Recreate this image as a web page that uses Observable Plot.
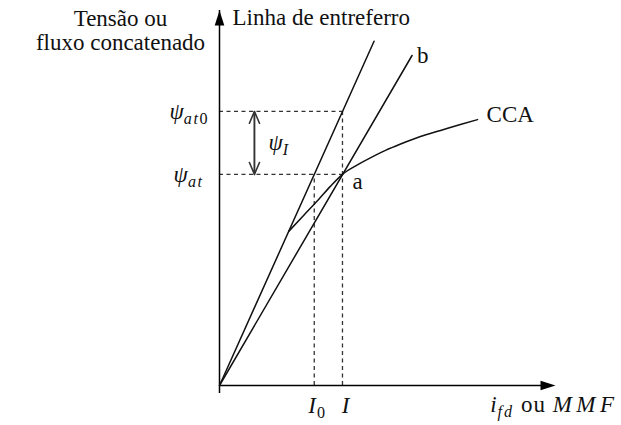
<!DOCTYPE html>
<html>
<head>
<meta charset="utf-8">
<script src="https://cdn.jsdelivr.net/npm/d3@7"></script>
<script src="https://cdn.jsdelivr.net/npm/@observablehq/plot@0.6"></script>
<style>
  html, body { margin: 0; padding: 0; background: #fff; }
  #chart svg text, #chart svg tspan { white-space: pre; font-family: "Liberation Serif", "Times New Roman", serif !important; }
</style>
</head>
<body>
<div id="chart"></div>
<script>
// ---- values (arbitrary units, axes run 0..10) ----
const I0 = 2.82;        // field current on the air-gap line at ψat
const I = 3.66;         // field current at operating point a
const psiAt = 5.63;     // ψat
const psiAt0 = 7.31;    // ψat0

const airGapX = [0, 4.6];
const airGapY = [0, 9.18];

const lineBX = [0, 5.73];
const lineBY = [0, 8.8];

const ccaX = [2.06, 2.53, 2.95, 3.30, 3.66, 4.08, 4.49, 4.94, 5.39, 5.98, 6.58, 7.17, 7.68];
const ccaY = [4.11, 4.56, 4.96, 5.31, 5.63, 5.87, 6.07, 6.27, 6.44, 6.64, 6.80, 6.96, 7.09];

const axisMax = 10;

// ---- labels ----
const yTitle = "Tensão ou\nfluxo concatenado";
const airGapLabel = "Linha de entreferro";
const lineBLabel = "b";
const ccaLabel = "CCA";
const pointALabel = "a";
const psiAtLabel = "ψ_at";
const psiAt0Label = "ψ_at0";
const psiILabel = "ψ_I";
const I0Label = "I_0";
const ILabel = "I";
const xTitle = "i_fd ou MMF";

// rich formatting: i = italic, s = subscript roman, si = subscript italic; third item = letter spacing
const rich = {
  [psiAt0Label]: [["ψ", "i", 0], ["at", "si", 1.5], ["0", "s", 0]],
  [psiAtLabel]: [["ψ", "i", 0], ["at", "si", 1.5]],
  [psiILabel]: [["ψ", "i", 0], ["I", "si", 0]],
  [I0Label]: [["I", "i", 1], ["0", "s", 0]],
  [ILabel]: [["I", "i", 0]],
  [xTitle]: [["i", "i", 1], ["fd", "si", 2], [" ou ", "", 1], ["MMF", "i", 4.5]]
};

// ---- tables built from the arrays ----
const airGap = airGapX.map((x, i) => ({x, y: airGapY[i]}));
const lineB = lineBX.map((x, i) => ({x, y: lineBY[i]}));
const cca = ccaX.map((x, i) => ({x, y: ccaY[i]}));

// filled arrowhead symbol with its tip at the anchor point, pointing up
const arrowHead = {
  draw(context) {
    context.moveTo(0, 0);
    context.lineTo(-4.8, 15);
    context.lineTo(4.8, 15);
    context.closePath();
  }
};

const serif = "Liberation Serif";
const fs = 23;
const psiArrowX = 1.04;
const psiMid = (psiAt + psiAt0) / 2;

const chart = Plot.plot({
  width: 621,
  height: 425,
  marginLeft: 219,
  marginRight: 66,
  marginTop: 10,
  marginBottom: 40,
  x: {domain: [0, axisMax], axis: null},
  y: {domain: [0, axisMax], axis: null},
  marks: [
    // dashed guides
    Plot.ruleY([psiAt, psiAt0], {x1: 0, x2: I, stroke: "#333", strokeWidth: 1.3, strokeDasharray: "4,3.5"}),
    Plot.ruleX([{x: I0, y: psiAt}, {x: I, y: psiAt0}], {x: "x", y1: 0, y2: "y", stroke: "#333", strokeWidth: 1.3, strokeDasharray: "4,3.5"}),
    // axes
    Plot.ruleY([0], {x1: 0, x2: axisMax, insetRight: 8, stroke: "#000", strokeWidth: 1.5}),
    Plot.ruleX([0], {y1: 0, y2: axisMax, insetTop: 8, stroke: "#000", strokeWidth: 1.5}),
    Plot.dot([{x: axisMax, y: 0, r: 90}, {x: 0, y: axisMax, r: 0}], {x: "x", y: "y", rotate: "r", symbol: arrowHead, fill: "#000", stroke: "none"}),
    // lines
    Plot.line(airGap, {x: "x", y: "y", stroke: "#111", strokeWidth: 1.5}),
    Plot.line(lineB, {x: "x", y: "y", stroke: "#111", strokeWidth: 1.5}),
    Plot.line(cca, {x: "x", y: "y", curve: "monotone-x", stroke: "#111", strokeWidth: 1.5}),
    // ψI double arrow
    Plot.arrow([
      {x1: psiArrowX, y1: psiAt, x2: psiArrowX, y2: psiAt0},
      {x1: psiArrowX, y1: psiAt0, x2: psiArrowX, y2: psiAt}
    ], {x1: "x1", y1: "y1", x2: "x2", y2: "y2", stroke: "#333", strokeWidth: 1.5, headLength: 13, headAngle: 46}),
    // text labels
    Plot.text([yTitle], {x: 0, y: axisMax, text: d => d, textAnchor: "middle", lineAnchor: "top", lineHeight: 1.05, dx: -99, dy: -2, fontFamily: serif, fontSize: fs, fill: "#111"}),
    Plot.text([airGapLabel], {x: 0, y: axisMax, text: d => d, textAnchor: "start", lineAnchor: "top", dx: 13, dy: -2, fontFamily: serif, fontSize: fs, fill: "#111"}),
    Plot.text([lineBLabel], {x: lineBX[1], y: lineBY[1], text: d => d, textAnchor: "start", dx: 5, dy: 0, fontFamily: serif, fontSize: fs, fill: "#111"}),
    Plot.text([ccaLabel], {x: ccaX[ccaX.length - 1], y: ccaY[ccaY.length - 1], text: d => d, textAnchor: "start", dx: 9, dy: -5, fontFamily: serif, fontSize: fs, fill: "#111"}),
    Plot.text([pointALabel], {x: I, y: psiAt, text: d => d, textAnchor: "start", dx: 10, dy: 7, fontFamily: serif, fontSize: fs, fill: "#111"}),
    Plot.text([{l: psiAt0Label, y: psiAt0}, {l: psiAtLabel, y: psiAt}], {x: 0, y: "y", text: "l", textAnchor: "middle", dx: -31, dy: 0, fontFamily: serif, fontSize: fs, fill: "#111"}),
    Plot.text([psiILabel], {x: psiArrowX, y: psiMid, text: d => d, textAnchor: "start", dx: 14, dy: 0, fontFamily: serif, fontSize: fs, fill: "#111"}),
    Plot.text([I0Label], {x: I0, y: 0, text: d => d, textAnchor: "start", dx: -6, dy: 20, fontFamily: serif, fontSize: fs, fill: "#111"}),
    Plot.text([ILabel], {x: I, y: 0, text: d => d, textAnchor: "middle", dx: 3, dy: 20, fontFamily: serif, fontSize: fs, fill: "#111"}),
    Plot.text([xTitle], {x: axisMax, y: 0, text: d => d, textAnchor: "end", dx: 63, dy: 19, fontFamily: serif, fontSize: fs, fill: "#111"})
  ]
});

// apply italic / subscript formatting to the math labels
const SVGNS = "http://www.w3.org/2000/svg";
chart.querySelectorAll("text").forEach(t => {
  const spec = rich[t.textContent];
  if (!spec) return;
  t.textContent = "";
  let sub = false;
  for (const [s, style, ls] of spec) {
    const ts = document.createElementNS(SVGNS, "tspan");
    ts.textContent = s;
    if (style.includes("i")) ts.setAttribute("font-style", "italic");
    if (ls) ts.setAttribute("letter-spacing", ls);
    const isSub = style.includes("s");
    if (isSub) ts.setAttribute("font-size", "70%");
    if (isSub !== sub) ts.setAttribute("dy", isSub ? "5" : "-5");
    sub = isSub;
    t.appendChild(ts);
  }
});

document.getElementById("chart").appendChild(chart);
</script>
</body>
</html>
